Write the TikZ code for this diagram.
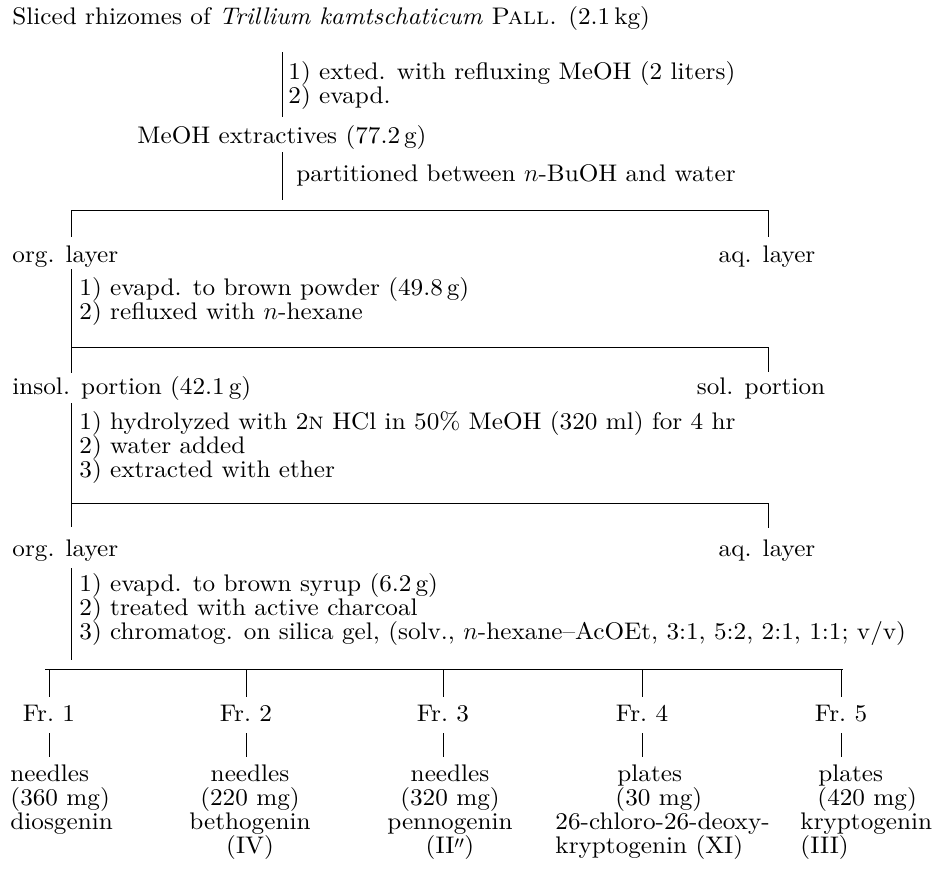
\documentclass[tikz,border=0pt]{standalone}
\usepackage{fontspec}
\setmainfont{lmroman10-regular.otf}[
  ItalicFont=lmroman10-italic.otf,
  BoldFont=lmroman10-bold.otf,
  BoldItalicFont=lmroman10-bolditalic.otf,
  SmallCapsFont=lmromancaps10-regular.otf,
  FakeStretch=1.05]
\usepackage{tikz}
\usetikzlibrary{positioning}

\begin{document}
\begin{tikzpicture}[x=1pt, y=-1pt, line width=0.9pt,
  font=\fontsize{24}{24}\selectfont,
  txt/.style={anchor=west, inner sep=0pt, text height=18pt, text depth=6pt},
  ctr/.style={inner sep=0pt, text height=18pt, text depth=6pt}]
  \useasboundingbox (0,0) rectangle (940,870);

  % starting material, extraction
  \node[txt] (src) at (12,18) {Sliced rhizomes of \textit{Trillium kamtschaticum} \textsc{Pall.} (2.1\,kg)};
  \node[txt] (ext1) at (288,73) {1)~exted. with refluxing MeOH (2 liters)};
  \node[txt] (ext2) at (288,97) {2)~evapd.};
  \node[ctr] (meoh) at (282,137) {MeOH extractives (77.2\,g)};
  \node[txt] (part) at (296,175) {partitioned between $n$-BuOH and water};
  \draw[shorten <=22pt, shorten >=8pt] (src.south -| meoh.north) -- (meoh.north);

  % n-BuOH / water
  \coordinate (s1l) at (71,210);
  \coordinate (s1r) at (768,210);
  \draw[shorten <=3pt, shorten >=10pt] (meoh.south) -- (meoh.south |- s1l);
  \draw (s1l) -- (s1r);
  \node[txt] (org1) at (12,256) {org. layer};
  \node[ctr] (aq1) at (767,256) {aq. layer};
  \draw[shorten >=7pt] (s1l) -- (s1l |- org1.north);
  \draw[shorten >=7pt] (s1r) -- (s1r |- aq1.north);

  % hexane wash
  \node[txt] (evp) at (79,289) {1)~evapd. to brown powder (49.8\,g)};
  \node[txt] (rfx) at (79,313) {2)~refluxed with $n$-hexane};
  \coordinate (s2l) at (71,347);
  \coordinate (s2r) at (768,347);
  \draw (s2l) -- (s2r);
  \node[txt] (insol) at (12,388) {insol. portion (42.1\,g)};
  \node[ctr] (sol) at (761,388) {sol. portion};
  \draw[shorten <=1pt, shorten >=3pt] (org1.south -| s2l) -- (insol.north -| s2l);
  \draw[shorten >=4pt] (s2r) -- (s2r |- sol.north);

  % hydrolysis
  \node[txt] (hyd) at (79,423) {1)~hydrolyzed with 2\textsc{n} HCl in 50\% MeOH (320 ml) for 4 hr};
  \node[txt] (wat) at (79,447) {2)~water added};
  \node[txt] (eth) at (79,471) {3)~extracted with ether};
  \coordinate (s3l) at (71,503);
  \coordinate (s3r) at (768,503);
  \draw (s3l) -- (s3r);
  \node[txt] (org2) at (12,550) {org. layer};
  \node[ctr] (aq2) at (767,550) {aq. layer};
  \draw[shorten <=3pt, shorten >=11pt] (insol.south -| s3l) -- (org2.north -| s3l);
  \draw[shorten >=10pt] (s3r) -- (s3r |- aq2.north);

  % column
  \node[txt] (syr) at (79,585) {1)~evapd. to brown syrup (6.2\,g)};
  \node[txt] (chc) at (79,609) {2)~treated with active charcoal};
  \node[txt] (chr) at (79,633) {3)~chromatog. on silica gel, (solv., $n$-hexane--AcOEt, 3:1, 5:2, 2:1, 1:1; v/v)};
  \coordinate (s4l) at (45,669);
  \coordinate (s4r) at (843,669);
  \draw[shorten <=6pt, shorten >=9pt] (org2.south -| s3l) -- (s4l -| s3l);
  \draw (s4l) -- (s4r);
  \foreach \i/\x in {1/49,2/246,3/443,4/642,5/841} {
    \coordinate (t\i) at (\x,669);
    \node[ctr] (fr\i) at (\x,715) {Fr.~\i};
    \draw[shorten >=6pt] (t\i) -- (t\i |- fr\i.north);
  }

  % fractions
  \node[txt] (p1) at (10,775) {needles};
  \node[txt] (m1) at (10,799) {(360 mg)};
  \node[txt] (c1) at (10,823) {diosgenin};
  \node[ctr] (p2) at (250,775) {needles};
  \node[ctr] (m2) at (250,799) {(220 mg)};
  \node[ctr] (c2) at (250,823) {bethogenin};
  \node[ctr] (n2) at (250,847) {(IV)};
  \node[ctr] (p3) at (450,775) {needles};
  \node[ctr] (m3) at (450,799) {(320 mg)};
  \node[ctr] (c3) at (450,823) {pennogenin};
  \node[ctr] (n3) at (450,847) {(II\raisebox{-5pt}{$''$})};
  \node[txt] (p4) at (617,775) {plates};
  \node[txt] (m4) at (615,799) {(30 mg)};
  \node[txt] (c4) at (555,823) {26-chloro-26-deoxy-};
  \node[txt] (n4) at (555,847) {kryptogenin (XI)};
  \node[txt] (p5) at (818,775) {plates};
  \node[txt] (m5) at (817,799) {(420 mg)};
  \node[txt] (c5) at (800,823) {kryptogenin};
  \node[txt] (n5) at (800,847) {(III)};
  \foreach \i in {1,...,5}
    \draw[shorten <=6pt, shorten >=6pt] (fr\i.south) -- (fr\i.south |- p\i.north);
\end{tikzpicture}
\end{document}
